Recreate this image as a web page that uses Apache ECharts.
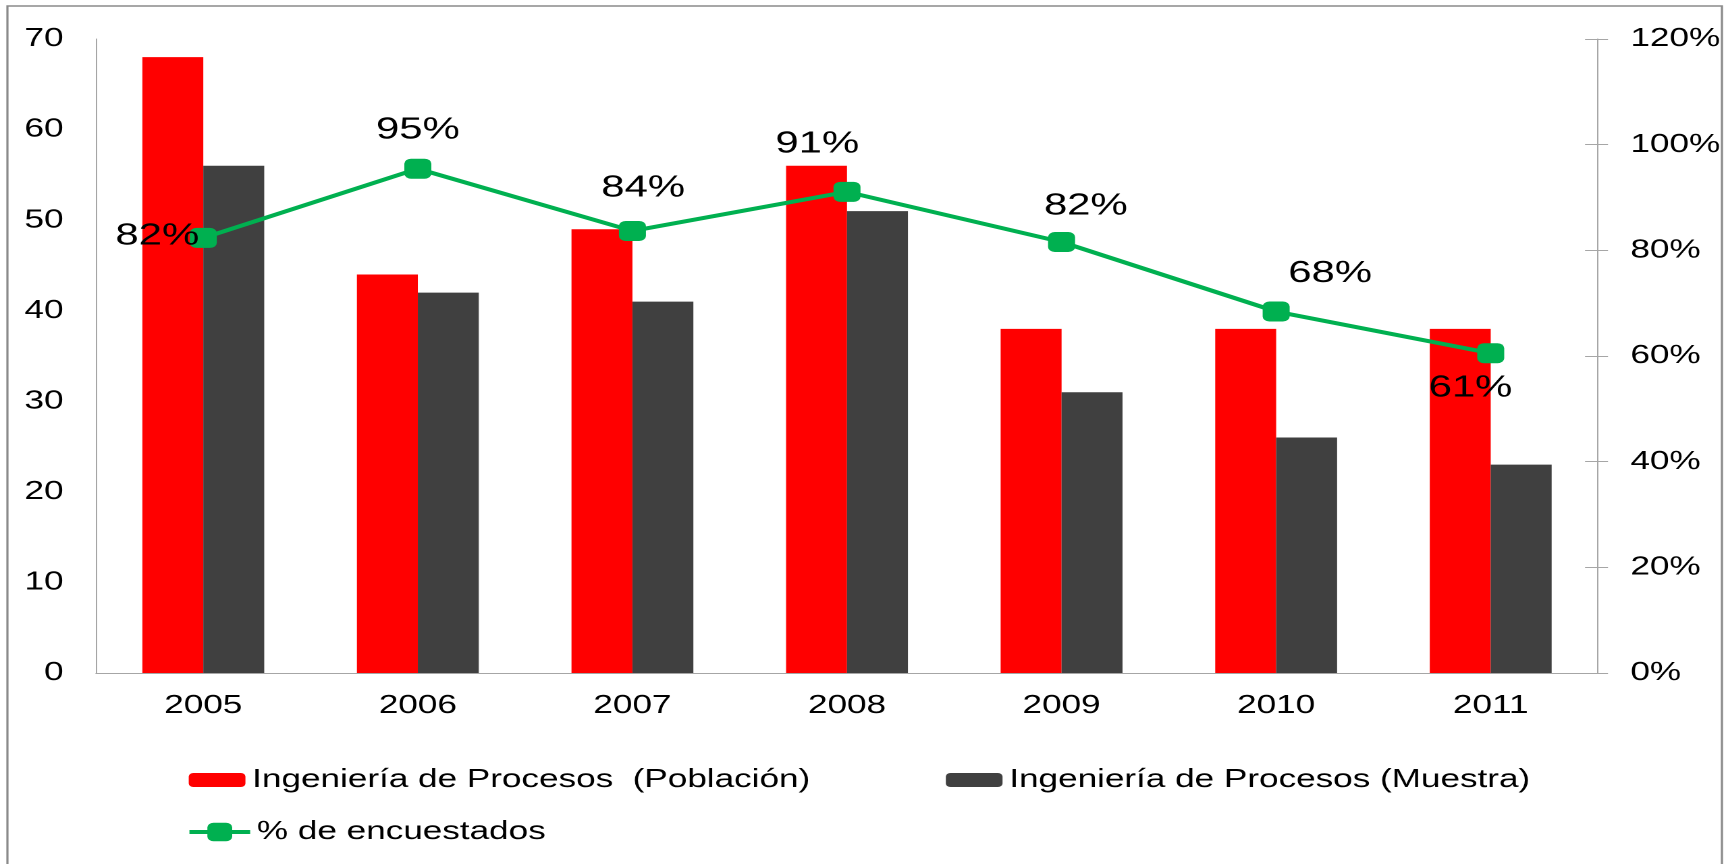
<!DOCTYPE html>
<html>
<head>
<meta charset="utf-8">
<title>Ingeniería de Procesos</title>
<script src="https://cdn.jsdelivr.net/npm/echarts@6/dist/echarts.min.js"></script>
<style>
    html, body { margin: 0; padding: 0; background: #fff; overflow: hidden; }
    #wrap { width: 1732px; height: 864px; position: relative; overflow: hidden; }
    /* the original picture is stretched sideways, so the chart is drawn narrower and widened */
    #main { width: 1283px; height: 864px; transform: scaleX(1.35); transform-origin: 0 0; }
</style>
</head>
<body>
<div id="wrap"><div id="main"></div></div>
<script>
// datos
const years = ['2005', '2006', '2007', '2008', '2009', '2010', '2011'];
const poblacion = [68, 44, 49, 56, 38, 38, 38];
const muestra = [56, 42, 41, 51, 31, 26, 23];
const encuestados = [82.35, 95.45, 83.67, 91.07, 81.58, 68.42, 60.53];

const nombrePoblacion = 'Ingeniería de Procesos  (Población)';
const nombreMuestra = 'Ingeniería de Procesos (Muestra)';
const nombreEncuestados = '% de encuestados';

// desplazamiento de cada etiqueta de porcentaje respecto a su punto
const labelOffsets = [[-34, -2], [0, -39], [8, -43], [-22, -48], [18, -36], [40, -38], [-15, 35]];

const myChart = echarts.init(document.getElementById('main'), null, { devicePixelRatio: 2 });

const fontFamily = '"Liberation Sans", Arial, sans-serif';
const axisColor = '#a6a6a6';

const legendText = { fontSize: 26, color: '#000', fontFamily: fontFamily };

const option = {
    animation: false,
    backgroundColor: '#fff',
    graphic: [
        {
            type: 'rect',
            shape: { x: 5.5, y: 6, width: 1270, height: 900 },
            style: { fill: 'none', stroke: '#8a8a8a', lineWidth: 1.6 },
            silent: true
        }
    ],
    grid: {
        left: 71.1,
        right: 99.3,
        top: 39,
        bottom: 191
    },
    legend: [
        {
            data: [nombrePoblacion],
            left: 134.8,
            top: 762,
            itemWidth: 42,
            itemHeight: 14,
            itemGap: 0,
            textStyle: legendText
        },
        {
            data: [nombreMuestra],
            left: 695.6,
            top: 762,
            itemWidth: 42,
            itemHeight: 14,
            itemGap: 0,
            textStyle: legendText
        },
        {
            data: [nombreEncuestados],
            left: 133.3,
            top: 814,
            itemWidth: 45,
            itemHeight: 23,
            itemGap: 0,
            lineStyle: { width: 4 },
            textStyle: legendText
        }
    ],
    xAxis: {
        type: 'category',
        data: years,
        axisLine: { lineStyle: { color: axisColor, width: 1 } },
        axisTick: { show: false },
        axisLabel: { fontSize: 26, color: '#000', fontFamily: fontFamily, margin: 20 }
    },
    yAxis: [
        {
            type: 'value',
            min: 0,
            max: 70,
            interval: 10,
            position: 'left',
            axisLine: { show: true, lineStyle: { color: axisColor, width: 1 } },
            axisTick: { show: false },
            splitLine: { show: false },
            axisLabel: { fontSize: 26, color: '#000', fontFamily: fontFamily, margin: 24 }
        },
        {
            type: 'value',
            min: 0,
            max: 120,
            interval: 20,
            position: 'right',
            axisLine: { show: true, lineStyle: { color: axisColor, width: 1 } },
            axisTick: { show: true, length: 7.4, lineStyle: { color: axisColor } },
            splitLine: { show: false },
            axisLabel: { fontSize: 26, color: '#000', fontFamily: fontFamily, margin: 24, formatter: '{value}%' }
        },
        {
            // solo para las marcas que cruzan el eje derecho hacia dentro
            type: 'value',
            min: 0,
            max: 120,
            interval: 20,
            position: 'right',
            axisLine: { show: false },
            axisTick: { show: true, inside: true, length: 9.6, lineStyle: { color: axisColor } },
            axisLabel: { show: false },
            splitLine: { show: false }
        }
    ],
    series: [
        {
            name: nombrePoblacion,
            type: 'bar',
            data: poblacion,
            yAxisIndex: 0,
            barWidth: '28.4%',
            barGap: '0%',
            itemStyle: { color: '#FF0000' }
        },
        {
            name: nombreMuestra,
            type: 'bar',
            data: muestra,
            yAxisIndex: 0,
            barWidth: '28.4%',
            barGap: '0%',
            itemStyle: { color: '#404040' }
        },
        {
            name: nombreEncuestados,
            type: 'line',
            yAxisIndex: 1,
            data: encuestados.map((v, i) => ({
                value: v,
                label: { offset: labelOffsets[i] }
            })),
            symbol: 'roundRect',
            symbolSize: 20,
            lineStyle: { color: '#00B050', width: 4 },
            itemStyle: { color: '#00B050' },
            label: {
                show: true,
                position: 'inside',
                fontSize: 31,
                color: '#000',
                fontFamily: fontFamily,
                formatter: p => Math.round(p.value) + '%'
            },
            z: 5
        }
    ]
};

myChart.setOption(option);
</script>
</body>
</html>
